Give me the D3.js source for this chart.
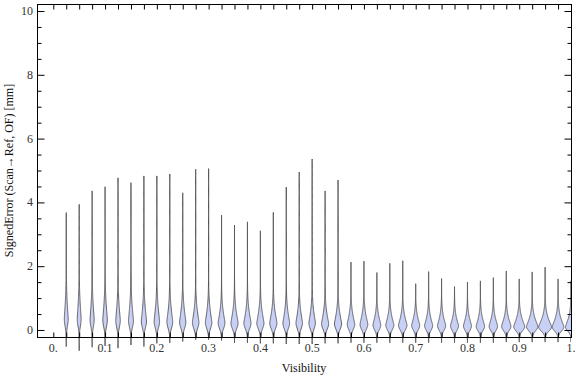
<!DOCTYPE html>
<html>
<head>
<meta charset="utf-8">
<script src="https://cdn.jsdelivr.net/npm/d3@7"></script>
<style>
  body { margin: 0; background: #fff; }
  text { font-family: "Liberation Serif", "DejaVu Serif", serif; }
</style>
</head>
<body>
<div id="chart"></div>
<script>
// visibility positions of each violin
const visibility = [0.025, 0.05, 0.075, 0.1, 0.125, 0.15, 0.175, 0.2, 0.225, 0.25,
    0.275, 0.3, 0.325, 0.35, 0.375, 0.4, 0.425, 0.45, 0.475, 0.5,
    0.525, 0.55, 0.575, 0.6, 0.625, 0.65, 0.675, 0.7, 0.725, 0.75,
    0.775, 0.8, 0.825, 0.85, 0.875, 0.9, 0.925, 0.95, 0.975, 1.0];

// largest error per violin
const maxErr = [3.68, 3.94, 4.36, 4.49, 4.77, 4.62, 4.83, 4.83, 4.89, 4.30,
    5.04, 5.06, 3.60, 3.29, 3.39, 3.11, 3.69, 4.48, 4.95, 5.36,
    4.36, 4.70, 2.13, 2.16, 1.80, 2.09, 2.17, 1.45, 1.83, 1.61,
    1.36, 1.50, 1.54, 1.64, 1.85, 1.60, 1.82, 1.97, 1.60, 1.54];

// smallest error per violin
const minErr = [-0.52, -0.65, -0.54, -0.50, -0.57, -0.47, -0.52, -0.42, -0.40, -0.36,
    -0.30, -0.30, -0.33, -0.40, -0.40, -0.42, -0.42, -0.44, -0.44, -0.44,
    -0.42, -0.42, -0.40, -0.40, -0.40, -0.40, -0.40, -0.40, -0.40, -0.40,
    -0.40, -0.40, -0.40, -0.40, -0.38, -0.38, -0.38, -0.38, -0.38, -0.38];

// error where the density is largest
const modeErr = [0.35, 0.35, 0.33, 0.32, 0.30, 0.30, 0.28, 0.27, 0.26, 0.25,
    0.24, 0.24, 0.23, 0.22, 0.22, 0.22, 0.22, 0.22, 0.22, 0.22,
    0.20, 0.20, 0.18, 0.18, 0.16, 0.16, 0.15, 0.15, 0.14, 0.14,
    0.13, 0.13, 0.12, 0.12, 0.12, 0.11, 0.11, 0.10, 0.10, 0.10];

// relative peak density
const peakDensity = [0.30, 0.30, 0.32, 0.35, 0.35, 0.38, 0.40, 0.42, 0.45, 0.48,
    0.50, 0.50, 0.52, 0.55, 0.55, 0.55, 0.55, 0.52, 0.50, 0.50,
    0.55, 0.55, 0.58, 0.60, 0.60, 0.62, 0.65, 0.62, 0.62, 0.63,
    0.62, 0.62, 0.65, 0.65, 0.72, 0.85, 0.88, 1.00, 0.90, 0.85];

// error where the body has thinned out to the tail
const bodyTop = [1.9, 1.9, 1.8, 1.8, 1.7, 1.7, 1.6, 1.6, 1.5, 1.5,
    1.4, 1.4, 1.3, 1.3, 1.3, 1.3, 1.3, 1.3, 1.3, 1.3,
    1.2, 1.2, 1.1, 1.1, 1.0, 1.0, 1.0, 0.95, 0.95, 0.95,
    0.9, 0.9, 0.9, 0.9, 0.9, 0.9, 0.9, 0.9, 0.9, 0.9];

const yTicks = [0, 2, 4, 6, 8, 10];
const xTicks = [0, 0.1, 0.2, 0.3, 0.4, 0.5, 0.6, 0.7, 0.8, 0.9, 1.0];
const xTickLabels = ["0.", "0.1", "0.2", "0.3", "0.4", "0.5", "0.6", "0.7", "0.8", "0.9", "1."];

const W = 576, H = 377;
const frame = { left: 37, right: 571, top: 4, bottom: 337 };

const svg = d3.select("#chart").append("svg")
    .attr("width", W)
    .attr("height", H);

// scales
const x = d3.scaleLinear().domain([-0.0315, 1.0]).range([frame.left, frame.right]);
const y = d3.scaleLinear().domain([-0.22, 10.22]).range([frame.bottom, frame.top]);
const w = d3.scaleLinear().domain([0, 1]).range([0, 6.5]);

svg.append("clipPath").attr("id", "clip")
    .append("rect")
    .attr("x", frame.left).attr("y", 0)
    .attr("width", frame.right - frame.left).attr("height", H);

// half width of a violin at error value v
function halfWidth(i, v) {
    const m = modeErr[i];
    let t;
    if (v >= m) {
        t = (v - m) / (bodyTop[i] - m);
        return w(peakDensity[i] * Math.exp(-3 * Math.pow(t, 1.3)));
    }
    t = (m - v) / (m + 0.22);
    return w(peakDensity[i] * Math.exp(-3 * t * t));
}

const violins = visibility.map((v, i) => {
    const n = 160;
    const vals = d3.range(n + 1).map(j => minErr[i] + (maxErr[i] - minErr[i]) * j / n);
    const left = vals.map(e => [x(v) - halfWidth(i, e), y(e)]);
    const right = vals.slice().reverse().map(e => [x(v) + halfWidth(i, e), y(e)]);
    return left.concat(right);
});

svg.append("g")
    .attr("clip-path", "url(#clip)")
    .selectAll("path")
    .data(violins)
    .enter()
    .append("path")
    .attr("d", d => d3.line()(d) + "Z")
    .attr("fill", "#c9d0f5")
    .attr("stroke", "#444")
    .attr("stroke-width", 0.8)
    .attr("stroke-linejoin", "round");

// frame
svg.append("rect")
    .attr("x", frame.left + 0.5).attr("y", frame.top + 0.5)
    .attr("width", frame.right - frame.left).attr("height", frame.bottom - frame.top)
    .attr("fill", "none")
    .attr("stroke", "#000")
    .attr("stroke-width", 1);

// y axes (left and right, ticks pointing in)
const yMinor = d3.range(0, 10.01, 0.5).filter(d => yTicks.indexOf(d) < 0);
const leftAxis = d3.axisRight(y).tickValues(yTicks).tickSize(7).tickFormat("");
const leftMinor = d3.axisRight(y).tickValues(yMinor).tickSize(4).tickFormat("");
const rightAxis = d3.axisLeft(y).tickValues(yTicks).tickSize(7).tickFormat("");
const rightMinor = d3.axisLeft(y).tickValues(yMinor).tickSize(4).tickFormat("");

[[leftAxis, frame.left], [leftMinor, frame.left], [rightAxis, frame.right], [rightMinor, frame.right]]
    .forEach(([ax, px]) => {
        const g = svg.append("g").attr("transform", `translate(${px + 0.5},0)`).call(ax);
        g.select(".domain").remove();
        g.selectAll("line").attr("stroke", "#000");
    });

// x axes: ticks at each violin position and at 0
const xTickPos = [0].concat(visibility);
const topAxis = d3.axisBottom(x).tickValues(xTickPos).tickSize(5).tickFormat("");
const bottomAxis = d3.axisTop(x).tickValues(xTickPos).tickSize(5).tickFormat("");
[[topAxis, frame.top], [bottomAxis, frame.bottom]].forEach(([ax, py]) => {
    const g = svg.append("g").attr("transform", `translate(0,${py + 0.5})`).call(ax);
    g.select(".domain").remove();
    g.selectAll("line").attr("stroke", "#000");
});

// tick labels
svg.selectAll(".ylab")
    .data(yTicks)
    .enter()
    .append("text")
    .attr("class", "ylab")
    .attr("x", frame.left - 4)
    .attr("y", d => y(d) + 4)
    .attr("text-anchor", "end")
    .attr("font-size", 12)
    .attr("fill", "#333")
    .text(d => d);

svg.selectAll(".xlab")
    .data(xTicks)
    .enter()
    .append("text")
    .attr("class", "xlab")
    .attr("x", d => x(d))
    .attr("y", 352)
    .attr("text-anchor", "middle")
    .attr("font-size", 12)
    .attr("fill", "#333")
    .text((d, i) => xTickLabels[i]);

// axis titles
svg.append("text")
    .attr("x", (frame.left + frame.right) / 2)
    .attr("y", 372)
    .attr("text-anchor", "middle")
    .attr("font-size", 12)
    .attr("fill", "#111")
    .text("Visibility");

svg.append("text")
    .attr("transform", `translate(13,${(frame.top + frame.bottom) / 2}) rotate(-90)`)
    .attr("text-anchor", "middle")
    .attr("font-size", 12)
    .attr("fill", "#111")
    .text("SignedError (Scan\u2192Ref, OF) [mm]");
</script>
</body>
</html>
